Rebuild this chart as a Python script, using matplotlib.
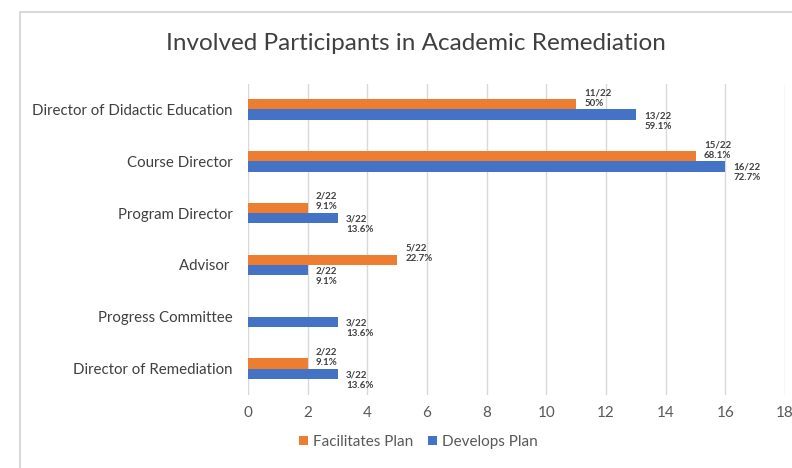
import numpy as np
import matplotlib.pyplot as plt
from matplotlib.patches import Rectangle

plt.rcParams['font.family'] = ['Lato', 'DejaVu Sans']

# data
categories = ["Director of Didactic Education", "Course Director", "Program Director",
              "Advisor ", "Progress Committee", "Director of Remediation"]
facilitates = [11, 15, 2, 5, 0, 2]
develops = [13, 16, 3, 2, 3, 3]
facilitates_labels = ["11/22\n50%", "15/22\n68.1%", "2/22\n9.1%", "5/22\n22.7%", "", "2/22\n9.1%"]
develops_labels = ["13/22\n59.1%", "16/22\n72.7%", "3/22\n13.6%", "2/22\n9.1%", "3/22\n13.6%", "3/22\n13.6%"]

orange = "#ED7D31"
blue = "#4472C4"

fig = plt.figure(figsize=(7.92, 4.68), dpi=100)
fig.patch.set_facecolor("white")

# chart frame (partially cropped like the reference)
fig.patches.append(Rectangle((20 / 792, -0.1), 1.2, 1 - 12 / 468 + 0.1,
                             transform=fig.transFigure, fill=False,
                             edgecolor="#D9D9D9", linewidth=1.5, zorder=0))

ax = fig.add_axes([248 / 792, 1 - 394.5 / 468, (785 - 248) / 792, (394.5 - 83.5) / 468])

y = np.arange(len(categories))
h = 0.2
b1 = ax.barh(y - h / 2, facilitates, height=h, color=orange, label="Facilitates Plan", zorder=3)
b2 = ax.barh(y + h / 2, develops, height=h, color=blue, label="Develops Plan", zorder=3)

for bar, lab in zip(b1, facilitates_labels):
    if lab:
        ax.annotate(lab, (bar.get_width(), bar.get_y() + bar.get_height() / 2),
                    xytext=(6, 4.5), textcoords="offset points", ha="left", va="center",
                    fontsize=7, fontweight="bold", color="#404040", linespacing=1.2)
for bar, lab in zip(b2, develops_labels):
    ax.annotate(lab, (bar.get_width(), bar.get_y() + bar.get_height() / 2),
                xytext=(6, -4.5), textcoords="offset points", ha="left", va="center",
                fontsize=7, fontweight="bold", color="#404040", linespacing=1.2)

ax.set_xlim(0, 18)
ax.set_xticks(range(0, 19, 2))
ax.set_ylim(len(categories) - 0.5, -0.5)
ax.set_yticks(y)
ax.set_yticklabels(categories, fontsize=10.8, color="#404040")
ax.tick_params(axis="x", labelsize=11, labelcolor="#595959", length=0, pad=8)
ax.tick_params(axis="y", length=0, pad=11)
ax.grid(axis="x", color="#D9D9D9", linewidth=1, zorder=0)
for s in ax.spines.values():
    s.set_visible(False)

fig.text(0.525, 1 - 43 / 468, "Involved Participants in Academic Remediation",
         ha="center", va="center", fontsize=17.5, color="#404040")

fig.legend(handles=[b1, b2], labels=["Facilitates Plan", "Develops Plan"],
           loc="center", bbox_to_anchor=(0.528, 1 - 442 / 468), ncol=2, frameon=False,
           fontsize=11, handlelength=0.6, handleheight=0.6, handletextpad=0.3,
           columnspacing=1.0, labelcolor="#595959")

fig.savefig("out.png", dpi=100)
